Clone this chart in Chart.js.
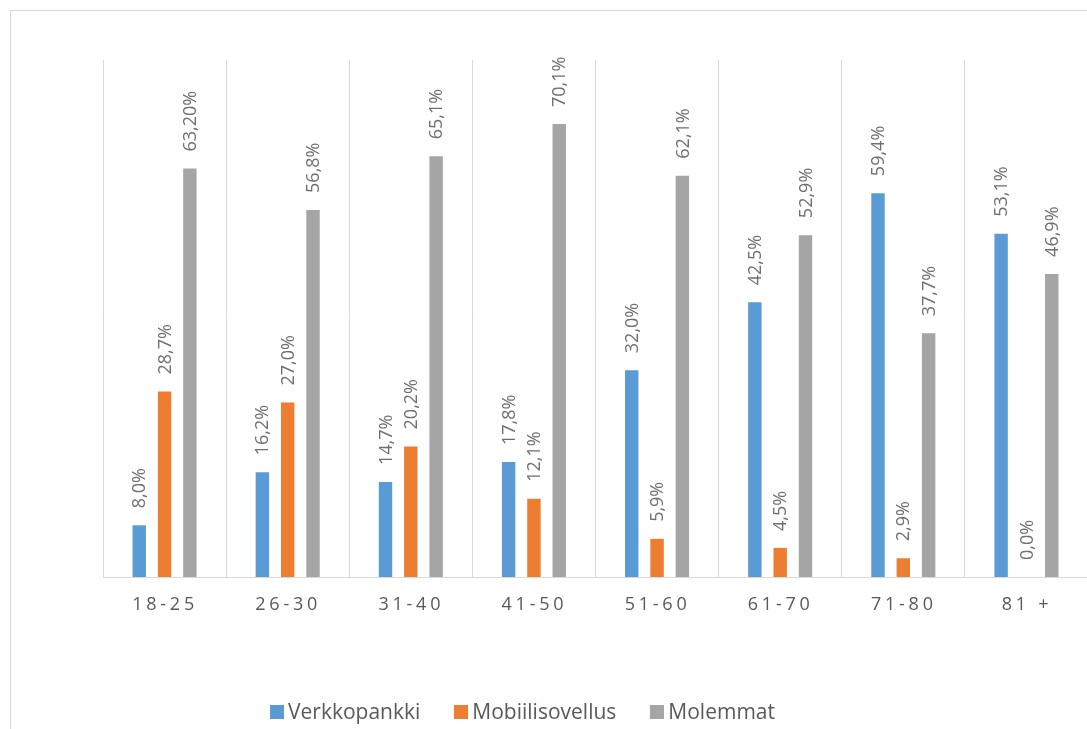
<!DOCTYPE html>
<html>
<head>
<meta charset="utf-8">
<script src="https://cdn.jsdelivr.net/npm/chart.js@4/dist/chart.umd.min.js"></script>
<style>
    html, body { margin: 0; padding: 0; background: #fff; overflow: hidden; }
    body { width: 1087px; height: 729px; position: relative; }
    .frame { position: absolute; left: 10px; top: 10px; width: 1200px; height: 800px; border: 1px solid #d9d9d9; box-sizing: border-box; }
    #chart-wrap { position: absolute; left: 0; top: 0; width: 1100px; height: 729px; }
    .legend { position: absolute; left: 0; top: 697px; width: 1045px; display: flex; justify-content: center; font-family: "Open Sans", sans-serif; font-size: 21px; line-height: 28px; color: #595959; }
    .legend-item { display: flex; align-items: center; margin: 0 17px; }
    .legend-swatch { width: 14px; height: 14px; margin-right: 4px; margin-top: 2px; }
</style>
</head>
<body>
<div class="frame"></div>
<div id="chart-wrap"><canvas id="usage-chart" width="1100" height="729"></canvas></div>
<div class="legend" id="legend"></div>
<script>
const ageGroups = ['18-25', '26-30', '31-40', '41-50', '51-60', '61-70', '71-80', '81 +'];
const verkkopankki = [8.0, 16.2, 14.7, 17.8, 32.0, 42.5, 59.4, 53.1];
const mobiilisovellus = [28.7, 27.0, 20.2, 12.1, 5.9, 4.5, 2.9, 0.0];
const molemmat = [63.20, 56.8, 65.1, 70.1, 62.1, 52.9, 37.7, 46.9];
// decimals shown in each label (one value was entered with two)
const molemmatDecimals = [2, 1, 1, 1, 1, 1, 1, 1];

const seriesDefs = [
    { label: 'Verkkopankki', data: verkkopankki, color: '#5B9BD5' },
    { label: 'Mobiilisovellus', data: mobiilisovellus, color: '#ED7D31' },
    { label: 'Molemmat', data: molemmat, color: '#A5A5A5', decimals: molemmatDecimals }
];

const fmt = (v, d) => v.toFixed(d).replace('.', ',') + '%';

// vertical value labels above each bar
const barLabels = {
    id: 'barLabels',
    afterDatasetsDraw(chart) {
        const ctx = chart.ctx;
        ctx.save();
        ctx.font = '18px "Open Sans"';
        ctx.fillStyle = '#6f6f6f';
        ctx.textAlign = 'left';
        ctx.textBaseline = 'middle';
        chart.data.datasets.forEach((ds, i) => {
            const meta = chart.getDatasetMeta(i);
            meta.data.forEach((bar, j) => {
                const d = ds.decimals ? ds.decimals[j] : 1;
                ctx.save();
                ctx.translate(bar.x + 1, bar.y - 17);
                ctx.rotate(-Math.PI / 2);
                ctx.fillText(fmt(ds.data[j], d), 0, 0);
                ctx.restore();
            });
        });
        ctx.restore();
    }
};

// category labels, spaced out like the original axis text
const spacedTicks = {
    id: 'spacedTicks',
    afterDraw(chart) {
        const ctx = chart.ctx;
        const xs = chart.scales.x;
        ctx.save();
        ctx.font = '18px "Open Sans"';
        ctx.fillStyle = '#595959';
        ctx.letterSpacing = '3.75px';
        ctx.textAlign = 'center';
        ctx.textBaseline = 'middle';
        ageGroups.forEach((g, i) => {
            ctx.fillText(g, xs.getPixelForTick(i) + 0.5, xs.bottom + 28);
        });
        ctx.restore();
    }
};

new Chart(document.getElementById('usage-chart'), {
    type: 'bar',
    data: {
        labels: ageGroups,
        datasets: seriesDefs.map(s => ({
            label: s.label,
            data: s.data,
            decimals: s.decimals,
            backgroundColor: s.color,
            categoryPercentage: 0.617,
            barPercentage: 0.53
        }))
    },
    options: {
        responsive: false,
        animation: false,
        layout: { padding: { left: 103, right: 12, top: 60, bottom: 152 } },
        plugins: { legend: { display: false }, tooltip: { enabled: false } },
        scales: {
            x: {
                ticks: { display: false },
                grid: { color: '#d9d9d9', lineWidth: 1, drawTicks: false, offset: true },
                border: { color: '#d9d9d9', width: 1 }
            },
            y: {
                display: false,
                min: 0,
                max: 80
            }
        }
    },
    plugins: [barLabels, spacedTicks]
});

const legend = document.getElementById('legend');
seriesDefs.forEach(s => {
    legend.insertAdjacentHTML('beforeend',
        `<div class="legend-item"><span class="legend-swatch" style="background:${s.color}"></span>${s.label}</div>`);
});
</script>
</body>
</html>
